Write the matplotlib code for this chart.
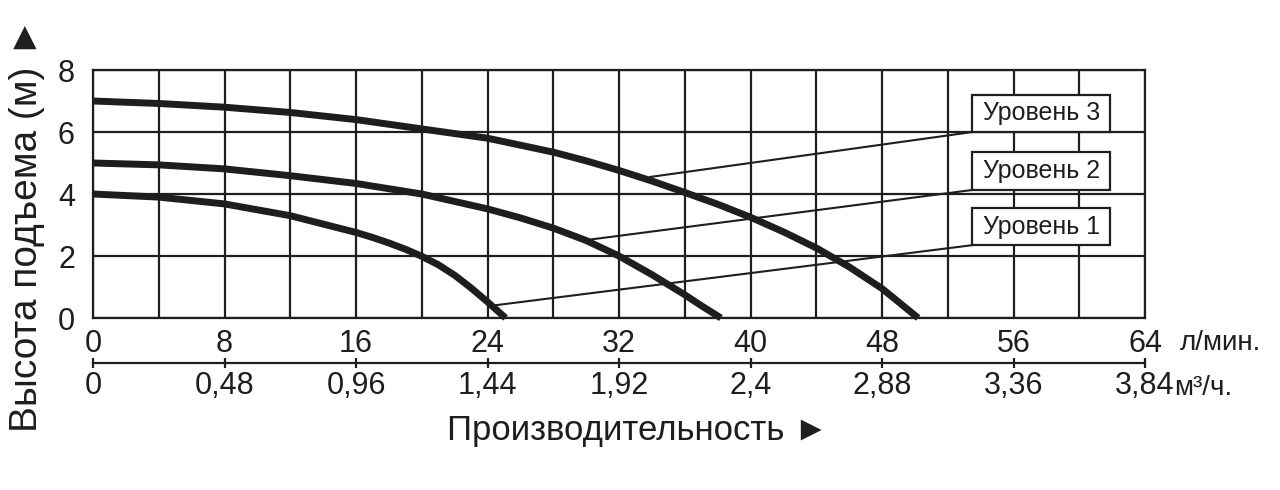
"""Pump performance curves: head vs. flow for three speed levels."""

import matplotlib
matplotlib.use('Agg')
import matplotlib.pyplot as plt
from matplotlib.patches import Rectangle

plt.rcParams['font.family'] = ['Liberation Sans', 'DejaVu Sans']

# Flow (l/min) and head (m).
flow_1 = [0, 4, 8, 12, 16, 17, 18, 19, 20, 21, 22, 23, 24, 25.1]
head_1 = [4.0, 3.9, 3.68, 3.3, 2.76, 2.6, 2.42, 2.22, 1.99, 1.72, 1.38, 0.97,
          0.52, 0.0]

flow_2 = [0, 4, 8, 12, 16, 20, 24, 26, 28, 30, 32, 34, 36, 37, 38.2]
head_2 = [5.0, 4.94, 4.81, 4.59, 4.34, 4.0, 3.52, 3.23, 2.9, 2.5, 2.0, 1.4,
          0.75, 0.4, 0.0]

flow_3 = [0, 4, 8, 12, 16, 20, 24, 28, 30, 32, 34, 36, 38, 40, 42, 44, 46,
          48, 49, 50.2]
head_3 = [7.0, 6.92, 6.8, 6.63, 6.4, 6.1, 5.8, 5.35, 5.07, 4.76, 4.42, 4.05,
          3.67, 3.25, 2.78, 2.26, 1.65, 0.95, 0.52, 0.0]

level_names = ['Уровень 1', 'Уровень 2', 'Уровень 3']
# Where each leader line touches its curve (flow, head).
leader_tips = [(24.3, 0.4), (29.8, 2.5), (33.9, 4.55)]
# Label boxes: bottom and top in metres.
box_bottoms = [2.35, 4.13, 6.0]
box_tops = [3.55, 5.35, 7.2]
box_left, box_right = 53.5, 61.9

lpm_ticks = [0, 8, 16, 24, 32, 40, 48, 56, 64]
m3h_labels = ['0', '0,48', '0,96', '1,44', '1,92', '2,4', '2,88', '3,36', '3,84']
head_ticks = [0, 2, 4, 6, 8]

ink = '#1e1e1e'

fig = plt.figure(figsize=(12.8, 4.9), dpi=100, facecolor='white')
ax = fig.add_axes([93 / 1280, 1 - 318 / 490, 1052 / 1280, 248 / 490])
ax.set_xlim(0, 64)
ax.set_ylim(0, 8)

# Grid every 4 l/min and 2 m.
ax.set_xticks(lpm_ticks)
ax.set_xticks(range(0, 65, 4), minor=True)
ax.set_yticks(head_ticks)
ax.grid(which='both', color=ink, linewidth=1.6, zorder=1)
ax.set_axisbelow(True)
for sp in ax.spines.values():
    sp.set_color(ink)
    sp.set_linewidth(1.6)
ax.tick_params(which='both', length=0)
ax.tick_params(axis='x', labelsize=22, pad=8, colors=ink)
ax.tick_params(axis='y', labelsize=22, pad=13, colors=ink)

# Curves.
for fl, hd in [(flow_1, head_1), (flow_2, head_2), (flow_3, head_3)]:
    ax.plot(fl, hd, color=ink, linewidth=5, solid_capstyle='butt',
            solid_joinstyle='round', zorder=4, clip_on=False)

# Leader lines and label boxes.
for name, tip, b, t in zip(level_names, leader_tips, box_bottoms, box_tops):
    ax.plot([tip[0], box_left], [tip[1], b], color=ink, linewidth=1.5,
            zorder=3)
    ax.add_patch(Rectangle((box_left, b), box_right - box_left, t - b,
                           facecolor='white', edgecolor=ink, linewidth=1.6,
                           zorder=5))
    ax.text((box_left + box_right) / 2, (b + t) / 2, name, fontsize=18,
            color=ink, ha='center', va='center', zorder=6)

# Second flow scale in m3/h.
sec = ax.secondary_xaxis(-0.1815)
sec.set_xticks(lpm_ticks, labels=m3h_labels)
sec.spines['bottom'].set_linewidth(1.6)
sec.spines['bottom'].set_color(ink)
sec.tick_params(direction='inout', length=7, width=1.6, color=ink,
                labelsize=22, pad=2, labelcolor=ink)

ax.text(1180 / 1280, 1 - 343 / 490, 'л/мин.', transform=fig.transFigure,
        fontsize=20, color=ink, ha='left', va='center')
ax.text(1174 / 1280, 1 - 388 / 490, 'м³/ч.', transform=fig.transFigure,
        fontsize=20, color=ink, ha='left', va='center')

fig.text(638 / 1280, 1 - 430 / 490, 'Производительность ►', fontsize=25,
         color=ink, ha='center', va='center')
fig.text(27 / 1280, 1 - 225 / 490, 'Высота подъема (м) ►', fontsize=28,
         color=ink, ha='center', va='center', rotation=90)

fig.savefig('out.png', dpi=100, facecolor='white')
